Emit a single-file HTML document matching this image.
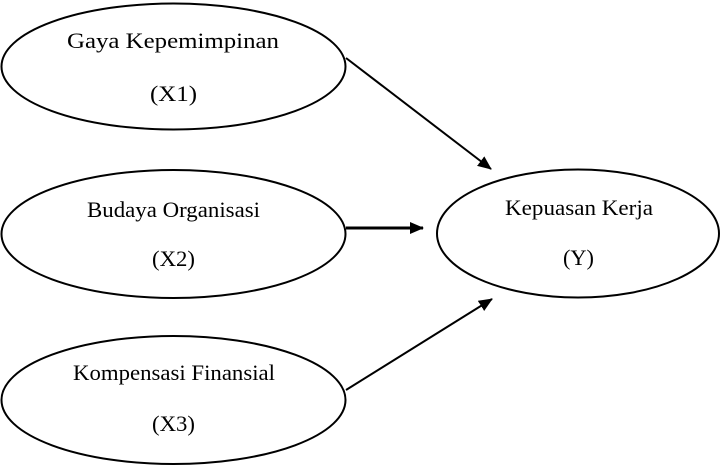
<!DOCTYPE html>
<html><head><style>html,body{margin:0;padding:0;background:#fff;}svg{display:block}</style></head>
<body>
<svg width="720" height="466" xmlns="http://www.w3.org/2000/svg" font-family="Liberation Serif, serif" font-size="22" fill="#000">
<defs>
<marker id="b" markerWidth="14" markerHeight="12" refX="13" refY="6" orient="auto" markerUnits="userSpaceOnUse"><path d="M0,0 L14,6 L0,12 z" fill="#000"/></marker></defs>
<g fill="none" stroke="#000" stroke-width="2">
<ellipse cx="173.5" cy="66.5" rx="172" ry="63"/>
<ellipse cx="173.5" cy="234" rx="172" ry="64"/>
<ellipse cx="173.5" cy="400" rx="172" ry="64"/>
<ellipse cx="578" cy="233.5" rx="141" ry="64"/>
<line x1="346" y1="58" x2="491" y2="169" marker-end="url(#b)"/>
<line x1="346" y1="228" x2="423" y2="228" stroke-width="3" marker-end="url(#b)"/>
<line x1="346" y1="390" x2="492" y2="299" marker-end="url(#b)"/>
</g>
<text x="67" y="48" textLength="212" lengthAdjust="spacingAndGlyphs">Gaya Kepemimpinan</text>
<text x="150" y="101" textLength="47" lengthAdjust="spacingAndGlyphs">(X1)</text>
<text x="87" y="217" textLength="173" lengthAdjust="spacingAndGlyphs">Budaya Organisasi</text>
<text x="152" y="266" textLength="43" lengthAdjust="spacingAndGlyphs">(X2)</text>
<text x="73" y="380" textLength="202" lengthAdjust="spacingAndGlyphs">Kompensasi Finansial</text>
<text x="152" y="431" textLength="43" lengthAdjust="spacingAndGlyphs">(X3)</text>
<text x="505" y="215" textLength="148" lengthAdjust="spacingAndGlyphs">Kepuasan Kerja</text>
<text x="563" y="265" textLength="31" lengthAdjust="spacingAndGlyphs">(Y)</text>
</svg>
</body></html>
